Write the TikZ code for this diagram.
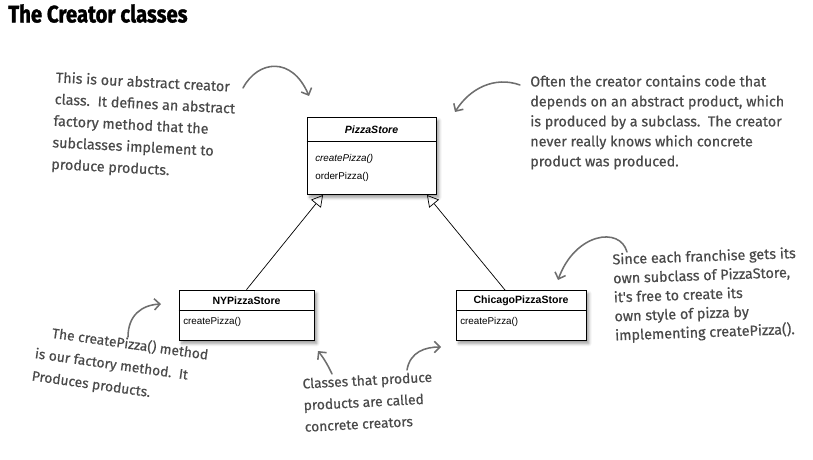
\documentclass[tikz,border=0pt]{standalone}
\usepackage{fontspec}
\setmainfont{Liberation Sans}
\newfontfamily\notefont{Fira Sans}[FakeBold=0.5]
\newfontfamily\titlefont{Fira Sans}[FakeBold=1.5]
\usetikzlibrary{arrows.meta,shadows.blur,positioning}
\definecolor{notegray}{HTML}{4A4A4A}
\definecolor{arrowgray}{HTML}{6E6E6E}
\tikzset{
  umlbox/.style={draw,line width=0.5pt,fill=white,inner sep=0,
    blur shadow={shadow xshift=2pt,shadow yshift=-2.5pt,shadow blur steps=6}},
  classname/.style={font=\bfseries\fontsize{7.5}{9}\selectfont,inner sep=0},
  method/.style={font=\fontsize{7}{9}\selectfont,inner sep=0,anchor=west},
  note/.style={font=\notefont\fontsize{10.2}{#1}\selectfont,text=notegray,align=left,anchor=north west,inner sep=0},
  note/.default=14pt,
  pointer/.style={draw=arrowgray,line width=1.1pt,line cap=round,-{Straight Barb[length=4pt,width=8pt]}},
  inherit/.style={line width=0.5pt,-{Triangle[open,length=8pt,width=9pt]}}
}
\begin{document}
\begin{tikzpicture}[x=0.025cm,y=-0.025cm]
\useasboundingbox (0,0) rectangle (813,459);
\node[anchor=north west,inner sep=0,xscale=0.85,font=\titlefont\bfseries\fontsize{17}{20}\selectfont] (title) at (8,4) {The Creator classes};

\node[umlbox,minimum width=3.225cm,minimum height=1.925cm] (ps) at (371.5,155.5) {};
\draw ([yshift=-0.625cm]ps.north west) -- ([yshift=-0.625cm]ps.north east);
\node[classname,font=\bfseries\itshape\fontsize{7.5}{9}\selectfont] (psname) at (371.5,129.5) {PizzaStore};
\node[method] (pscreate) at (315,159) {\itshape createPizza()};
\node[method] (psorder) at (315,177) {orderPizza()};

\node[umlbox,minimum width=3.375cm,minimum height=1.25cm] (ny) at (246.5,315) {};
\draw ([yshift=-0.525cm]ny.north west) -- ([yshift=-0.525cm]ny.north east);
\node[classname] (nyname) at (246.5,300.5) {NYPizzaStore};
\node[method] (nycreate) at (183,322) {createPizza()};

\node[umlbox,minimum width=3.25cm,minimum height=1.25cm] (ch) at (521,315) {};
\draw ([yshift=-0.525cm]ch.north west) -- ([yshift=-0.525cm]ch.north east);
\node[classname] (chname) at (521,300.5) {ChicagoPizzaStore};
\node[method] (chcreate) at (460,322) {createPizza()};

\coordinate (psl) at (323,195);
\coordinate (psr) at (427,195);
\coordinate (chtop) at (505,290);
\draw[inherit] (ny.north) -- (psl);
\draw[inherit] (chtop) -- (psr);

\node[note=15.4pt,rotate=-3] (abstractnote) at (56,71) {This is our abstract creator\\class.\ \ It defines an abstract\\factory method that the\\subclasses implement to\\produce products.};
\node[note=14.2pt] (dependnote) at (530,75) {Often the creator contains code that\\depends on an abstract product, which\\is produced by a subclass.\ \ The creator\\never really knows which concrete\\product was produced.};
\node[note=13.5pt,rotate=2] (franchisenote) at (612,253) {Since each franchise gets its\\own subclass of PizzaStore,\\it's free to create its\\own style of pizza by\\implementing createPizza().};
\node[note=16pt,rotate=-8,font=\notefont\fontsize{9.8}{16}\selectfont] (factorynote) at (39,324) {\hspace*{10pt}The createPizza() method\\is our factory method.\ \ It\\Produces products.};
\node[note=15.4pt,rotate=3,font=\notefont\fontsize{9.8}{15.4}\selectfont] (concretenote) at (302,378) {Classes that produce\\products are called\\concrete creators};

\draw[pointer] (243,88) .. controls (258,60) and (292,56) .. (309,96);
\draw[pointer] (520,85) .. controls (495,76) and (470,88) .. (455,112);
\draw[pointer] (627,252) .. controls (620,226) and (575,233) .. (558,280);
\draw[pointer] (128,337) .. controls (128,315) and (142,305) .. (161,304);
\draw[pointer] (332,374) .. controls (327,363) and (322,356) .. (318,351);
\draw[pointer] (407,370) .. controls (410,352) and (425,347) .. (441,347);
\end{tikzpicture}
\end{document}
